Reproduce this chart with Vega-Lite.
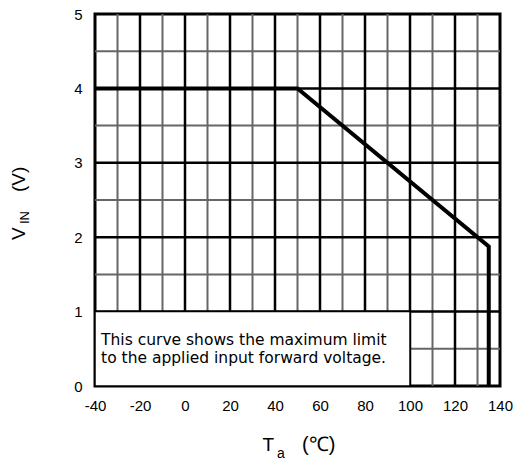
{
  "$schema": "https://vega.github.io/schema/vega-lite/v6.json",
  "autosize": {"type": "none"},
  "padding": {"left": 95, "top": 14, "right": 15, "bottom": 75},
  "width": 405,
  "height": 372,
  "background": "white",
  "config": {
    "view": {"stroke": "black", "strokeWidth": 3},
    "font": "Liberation Sans",
    "axis": {
      "labelFont": "Liberation Sans",
      "labelFontSize": 15,
      "labelColor": "black",
      "labelFlush": false,
      "labelOverlap": false,
      "ticks": false,
      "domain": false,
      "grid": false,
      "title": null
    }
  },
  "datasets": {
    "curve": [
      {"Ta": -40, "VIN": 4, "seq": 1},
      {"Ta": 50, "VIN": 4, "seq": 2},
      {"Ta": 135, "VIN": 1.875, "seq": 3},
      {"Ta": 135, "VIN": 0, "seq": 4}
    ],
    "xMinor": [{"Ta": -30}, {"Ta": -10}, {"Ta": 10}, {"Ta": 30}, {"Ta": 50}, {"Ta": 70}, {"Ta": 90}, {"Ta": 110}, {"Ta": 130}],
    "xMajor": [{"Ta": -20}, {"Ta": 0}, {"Ta": 20}, {"Ta": 40}, {"Ta": 60}, {"Ta": 80}, {"Ta": 100}, {"Ta": 120}],
    "yMinor": [{"VIN": 0.5}, {"VIN": 1.5}, {"VIN": 2.5}, {"VIN": 3.5}, {"VIN": 4.5}],
    "yMajor": [{"VIN": 1}, {"VIN": 2}, {"VIN": 3}, {"VIN": 4}],
    "note": [{"line": "This curve shows the maximum limit", "v": 0.555}, {"line": "to the applied input forward voltage.", "v": 0.305}]
  },
  "layer": [
    {
      "data": {"name": "xMinor"},
      "mark": {"type": "rule", "color": "#666666", "strokeWidth": 2},
      "encoding": {
        "x": {"field": "Ta", "type": "quantitative", "scale": {"domain": [-40, 140], "nice": false, "zero": false},
          "axis": {
            "values": [-40, -20, 0, 20, 40, 60, 80, 100, 120, 140],
            "labelExpr": "'' + datum.value",
            "labelPadding": 12
          }}
      }
    },
    {
      "data": {"name": "yMinor"},
      "mark": {"type": "rule", "color": "#666666", "strokeWidth": 2},
      "encoding": {
        "y": {"field": "VIN", "type": "quantitative", "scale": {"domain": [0, 5], "nice": false},
          "axis": {
            "values": [0, 1, 2, 3, 4, 5],
            "labelExpr": "'' + datum.value",
            "labelPadding": 13
          }}
      }
    },
    {
      "data": {"name": "xMajor"},
      "mark": {"type": "rule", "color": "black", "strokeWidth": 2.5},
      "encoding": {"x": {"field": "Ta", "type": "quantitative"}}
    },
    {
      "data": {"name": "yMajor"},
      "mark": {"type": "rule", "color": "black", "strokeWidth": 2.5},
      "encoding": {"y": {"field": "VIN", "type": "quantitative"}}
    },
    {
      "data": {"values": [{}]},
      "mark": {"type": "rect", "fill": "white", "stroke": "black", "strokeWidth": 1.5},
      "encoding": {
        "x": {"datum": -40, "type": "quantitative"},
        "x2": {"datum": 100},
        "y": {"datum": 0, "type": "quantitative"},
        "y2": {"datum": 1}
      }
    },
    {
      "data": {"name": "curve"},
      "mark": {"type": "line", "color": "black", "strokeWidth": 4, "strokeJoin": "miter", "clip": true},
      "encoding": {
        "x": {"field": "Ta", "type": "quantitative"},
        "y": {"field": "VIN", "type": "quantitative"},
        "order": {"field": "seq"}
      }
    },
    {
      "data": {"name": "note"},
      "mark": {"type": "text", "align": "left", "baseline": "alphabetic", "fontSize": 15.5, "color": "black", "font": "DejaVu Sans"},
      "encoding": {
        "x": {"datum": -37.3, "type": "quantitative"},
        "y": {"field": "v", "type": "quantitative"},
        "text": {"field": "line"}
      }
    },
    {
      "data": {"values": [{}]},
      "mark": {"type": "text", "text": "T", "align": "left", "baseline": "alphabetic", "fontSize": 19, "dx": -35, "dy": 65, "color": "black"},
      "encoding": {"x": {"datum": 50, "type": "quantitative"}, "y": {"datum": 0, "type": "quantitative"}}
    },
    {
      "data": {"values": [{}]},
      "mark": {"type": "text", "text": "a", "align": "left", "baseline": "alphabetic", "fontSize": 14, "dx": -20.5, "dy": 72, "color": "black"},
      "encoding": {"x": {"datum": 50, "type": "quantitative"}, "y": {"datum": 0, "type": "quantitative"}}
    },
    {
      "data": {"values": [{}]},
      "mark": {"type": "text", "text": "(℃)", "align": "left", "baseline": "alphabetic", "fontSize": 20, "dx": 4.5, "dy": 65, "color": "black"},
      "encoding": {"x": {"datum": 50, "type": "quantitative"}, "y": {"datum": 0, "type": "quantitative"}}
    },
    {
      "data": {"values": [{}]},
      "mark": {"type": "text", "text": "V", "angle": 270, "align": "left", "baseline": "alphabetic", "fontSize": 19, "dx": -40, "dy": -70, "color": "black"},
      "encoding": {"x": {"datum": -40, "type": "quantitative"}, "y": {"datum": 2.5, "type": "quantitative"}}
    },
    {
      "data": {"values": [{}]},
      "mark": {"type": "text", "text": "IN", "angle": 270, "align": "left", "baseline": "alphabetic", "fontSize": 13, "dx": -24, "dy": -66, "color": "black"},
      "encoding": {"x": {"datum": -40, "type": "quantitative"}, "y": {"datum": 2.5, "type": "quantitative"}}
    },
    {
      "data": {"values": [{}]},
      "mark": {"type": "text", "text": "(V)", "angle": 270, "align": "left", "baseline": "alphabetic", "fontSize": 19, "dx": 8, "dy": -70, "color": "black"},
      "encoding": {"x": {"datum": -40, "type": "quantitative"}, "y": {"datum": 2.5, "type": "quantitative"}}
    }
  ]
}
